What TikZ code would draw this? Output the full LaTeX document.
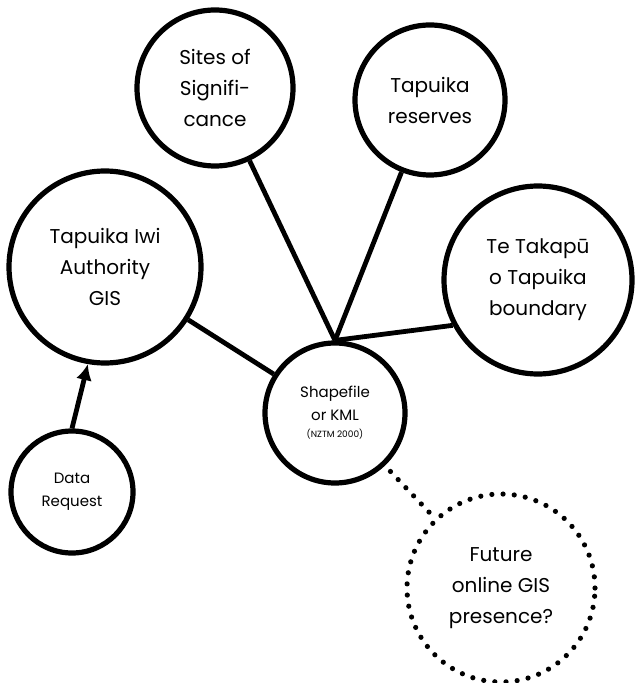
\documentclass[tikz,border=0pt]{standalone}
\usepackage{fontspec}
\setmainfont{Poppins}
\usetikzlibrary{arrows.meta}

\begin{document}
\begin{tikzpicture}[x=0.5pt,y=-0.5pt,
  bubble/.style={circle,draw,line width=2.6pt,align=center,inner sep=0pt},
  big/.style={font=\fontsize{10}{15.5}\selectfont},
  small/.style={font=\fontsize{7.5}{11.5}\selectfont},
  link/.style={line width=2.4pt},
  dotline/.style={line width=2.6pt,line cap=round,dash pattern=on 0pt off 5.6pt}]
\useasboundingbox (0,0) rectangle (634,683);
% centre
\node[bubble,small,minimum size=70pt](shp) at (335,413)
  {Shapefile\\or KML\\[-3pt]{\fontsize{4.5}{6}\selectfont (NZTM 2000)}};
% layers
\node[bubble,big,minimum size=78pt](sites) at (215,88){Sites of\\Signifi-\\cance};
\node[bubble,big,minimum size=75pt](res) at (430,100){Tapuika\\reserves};
\node[bubble,big,minimum size=94pt](tak) at (538,280){Te Takapū\\o Tapuika\\boundary};
\node[bubble,big,minimum size=96pt](iwi) at (105,267){Tapuika Iwi\\Authority\\GIS};
\node[bubble,small,minimum size=61pt](req) at (72,492){Data\\Request};
\node[bubble,big,draw=none,minimum size=94pt](fut) at (501,588){Future\\online GIS\\presence?};
\draw[dotline] (fut.center) circle (47pt);

\draw[link] (sites) -- (shp.north);
\draw[link] (res) -- (shp.north);
\draw[link] (shp.north) -- (tak.208);
\draw[link] (iwi) -- (shp);
\draw[link,-{Latex[length=8pt,width=8pt]}] (req.north) -- (iwi.260);
\draw[dotline,shorten <=4pt] (shp) -- (fut);
\end{tikzpicture}
\end{document}
